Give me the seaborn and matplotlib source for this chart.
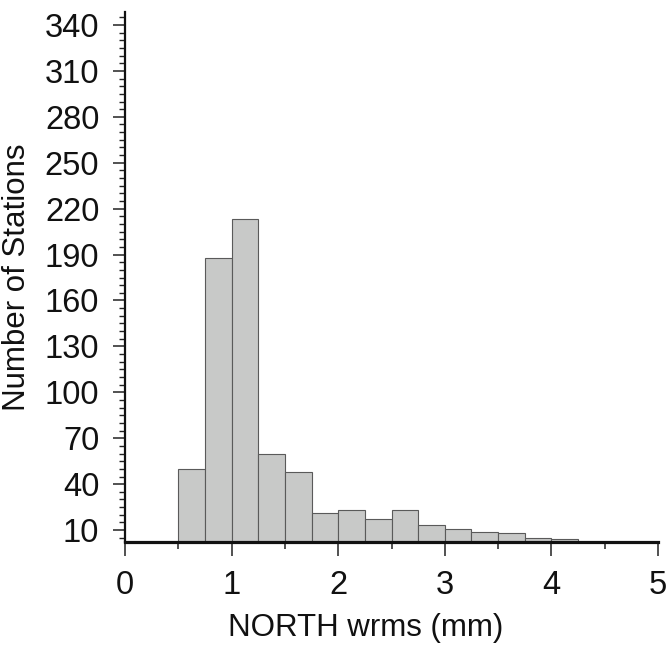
import numpy as np
import pandas as pd
import matplotlib
matplotlib.use("Agg")
import matplotlib.pyplot as plt
import seaborn as sns
from matplotlib.ticker import MultipleLocator, FixedLocator

# Data
bin_edges = [0.5, 0.75, 1.0, 1.25, 1.5, 1.75, 2.0, 2.25, 2.5, 2.75, 3.0, 3.25, 3.5, 3.75, 4.0, 4.25]
counts = [50, 188, 213, 60, 48, 21, 23, 17, 23, 13, 11, 9, 8, 5, 4]
bin_centers = [(a + b) / 2 for a, b in zip(bin_edges[:-1], bin_edges[1:])]
x_ticks = [0, 1, 2, 3, 4, 5]
y_ticks = list(range(10, 341, 30))

sns.set_style("ticks")
plt.rcParams['font.family'] = ['Liberation Sans', 'DejaVu Sans']
plt.rcParams['text.color'] = '#111111'
plt.rcParams['axes.labelcolor'] = '#111111'
plt.rcParams['xtick.labelcolor'] = '#111111'
plt.rcParams['ytick.labelcolor'] = '#111111'

df = pd.DataFrame({"wrms": bin_centers, "n": counts})

fig = plt.figure(figsize=(6.69, 6.47), dpi=100)
ax = fig.add_axes([125/669, 1 - 541.7/647, (658 - 125)/669, (541.7 - 12.3)/647])

sns.histplot(data=df, x="wrms", weights="n", bins=bin_edges, ax=ax,
             color="#c8c9c8", edgecolor="#5a5a5a", linewidth=0.8, alpha=1.0)

ax.set_xlim(0, 5)
ax.set_ylim(2.4, 348.3)

ax.xaxis.set_major_locator(FixedLocator(x_ticks))
ax.xaxis.set_minor_locator(MultipleLocator(0.5))
ax.yaxis.set_major_locator(FixedLocator(y_ticks))
ax.yaxis.set_minor_locator(MultipleLocator(5))

ax.tick_params(axis='both', which='major', labelsize=23.5, color='#222222', width=1.1)
ax.tick_params(axis='x', which='major', length=10, pad=10.5)
ax.tick_params(axis='x', which='minor', length=5, width=1.1, color='#222222')
ax.tick_params(axis='y', which='major', length=9, pad=9.5)
ax.tick_params(axis='y', which='minor', length=4.5, width=1.0, color='#222222')

for side in ['top', 'right']:
    ax.spines[side].set_visible(False)
ax.spines['bottom'].set_linewidth(2.3)
ax.spines['left'].set_linewidth(1.6)
ax.spines['bottom'].set_color('#111111')
ax.spines['left'].set_color('#111111')

ax.set_xlabel("NORTH wrms (mm)", fontsize=22.5)
ax.set_ylabel("Number of Stations", fontsize=22.5)
ax.xaxis.set_label_coords(0.452, -0.135)
ax.yaxis.set_label_coords(-0.175, 0.5)

fig.savefig("out.png", dpi=100, facecolor="white")
